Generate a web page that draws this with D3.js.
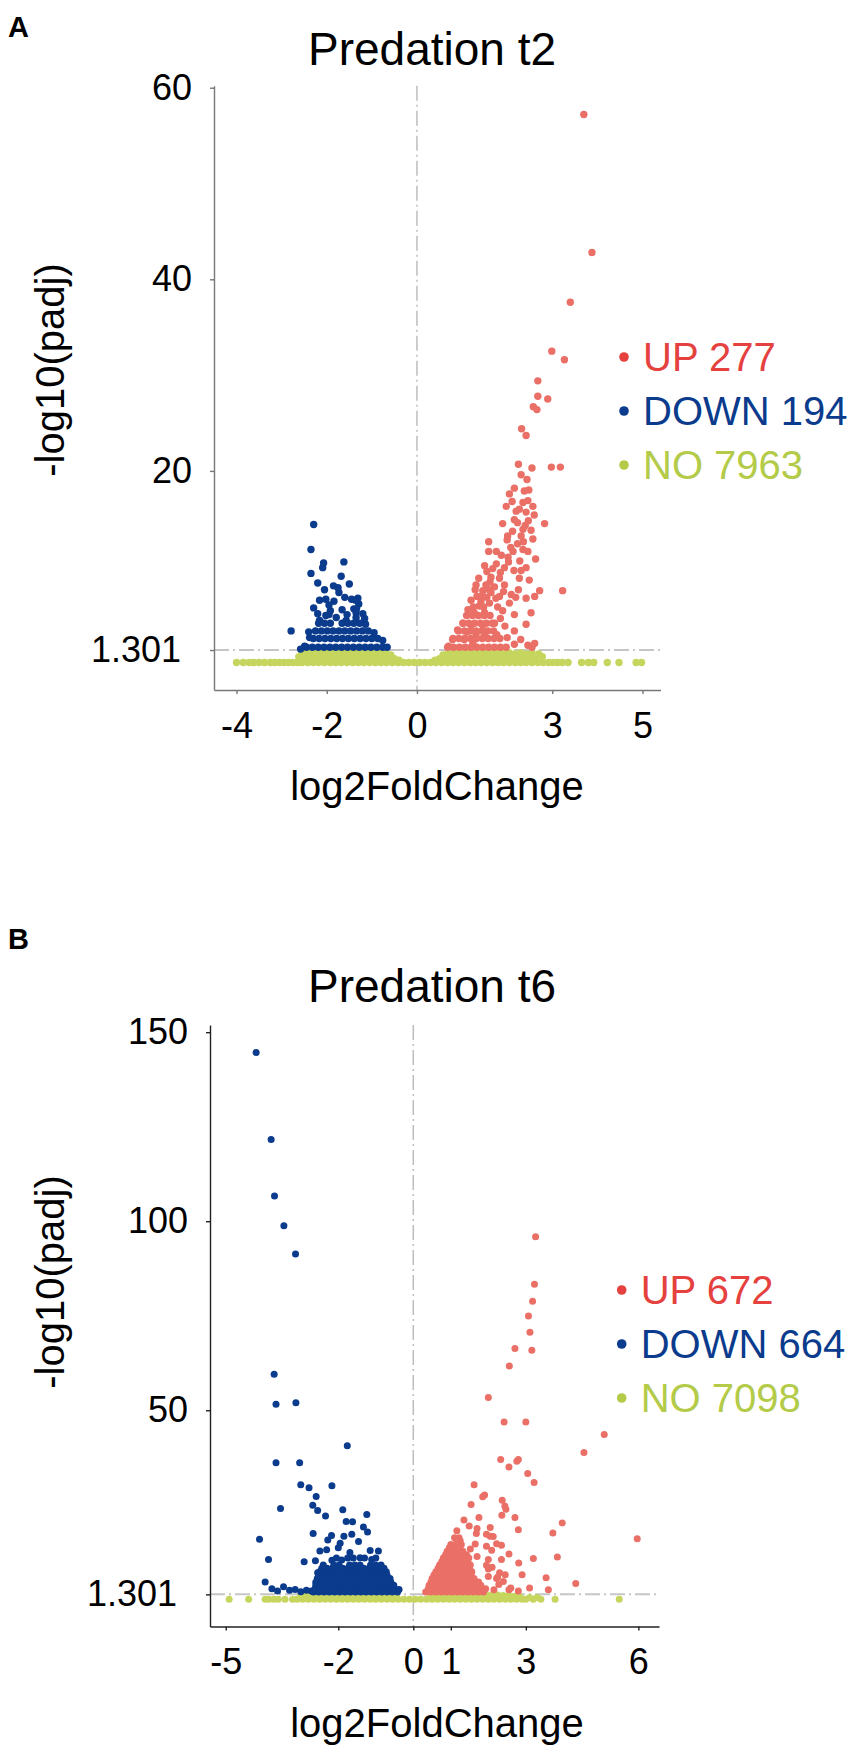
<!DOCTYPE html>
<html>
<head>
<meta charset="utf-8">
<script src="https://cdn.jsdelivr.net/npm/d3@7"></script>
<style>
  body { margin: 0; background: #fff; }
  text { font-family: "Liberation Sans", Arial, sans-serif; }
</style>
</head>
<body>
<svg id="chart" width="854" height="1750"></svg>
<script>
// categories, counts and ticks
const groups = ["UP", "DOWN", "NO"];
const countsA = [277, 194, 7963];
const countsB = [672, 664, 7098];
const threshold = 1.301;
const xTicksA = [-4, -2, 0, 3, 5];
const yTicksA = [1.301, 20, 40, 60];
const xTicksB = [-5, -2, 0, 1, 3, 6];
const yTicksB = [1.301, 50, 100, 150];

// panel A points, [log2FoldChange, -log10(padj)]
const upA = [
  [3.70,57.2],[3.88,42.8],[3.40,37.6],[2.99,32.5],[3.27,31.6],[2.68,29.4],[2.68,27.8],[2.90,27.5],
  [2.58,26.7],[2.66,26.4],[2.32,24.4],[2.42,23.7],[2.25,20.7],[2.98,20.4],[3.18,20.4],[2.44,19.1],
  [2.16,18.2],[2.05,17.6],[2.38,17.9],[2.11,16.8],[2.35,16.7],[2.46,16.9],[2.57,16.3],[1.98,16.3],
  [2.20,15.8],[2.42,15.7],[2.60,15.4],[2.16,14.9],[2.47,14.8],[2.23,14.6],[1.90,14.5],[2.83,14.5],
  [2.35,13.9],[2.53,13.8],[2.01,13.2],[2.31,13.2],[2.57,12.9],[1.59,12.6],[2.23,12.4],[2.08,12.0],
  [2.35,11.8],[1.59,11.6],[1.76,11.6],[1.87,11.2],[2.13,11.6],[2.46,11.6],[2.02,11.0],[2.28,10.6],
  [2.63,10.8],[1.50,10.1],[1.76,10.3],[1.94,9.9],[2.42,9.9],[1.68,9.8],[2.15,9.6],[2.31,9.6],
  [1.37,8.8],[1.64,8.9],[1.83,8.8],[2.27,8.8],[2.49,8.6],[1.31,8.1],[1.53,8.1],[1.72,7.9],
  [1.94,8.1],[1.29,7.6],[1.46,7.5],[1.64,7.3],[2.72,7.5],[3.23,7.5],[1.33,6.9],[1.83,6.9],
  [2.09,7.1],[2.19,6.8],[1.20,6.5],[1.42,6.4],[1.61,6.2],[1.79,5.8],[2.42,6.7],[2.61,6.9],
  [1.13,5.5],[1.27,5.2],[1.50,5.2],[1.90,5.4],[2.16,5.0],[2.53,5.2],[1.02,4.1],[1.20,3.9],
  [1.46,3.9],[1.72,4.1],[2.42,4.0],[0.90,3.4],[1.11,3.2],[1.31,2.9],[1.50,3.1],[1.77,2.9],
  [2.16,3.3],[0.79,2.4],[1.05,2.4],[1.24,2.0],[2.16,1.9],[2.46,1.8],[2.61,2.0],[0.70,1.7],
  [1.85,4.6],[1.95,3.8],[2.00,2.6],[1.55,9.5],[1.62,8.4],[1.92,7.4],[2.03,10.5],[2.25,7.6],
  [2.05,6.2],[1.48,5.8],[1.60,7.6],[1.75,6.7],[1.85,9.4],[2.00,12.8],[2.12,13.7],[2.36,12.6],
  [2.40,14.3],[2.27,16.0],[2.48,18.0],[2.31,19.6],[2.55,20.3],[2.30,2.4],[2.55,1.6],[1.38,5.9],
  [1.45,7.0],[1.55,6.8],[1.25,5.8],
  [0.68,1.6],[0.81,1.6],[0.94,1.6],[1.07,1.6],[1.20,1.6],[1.33,1.6],[1.46,1.6],[1.59,1.6],
  [1.72,1.6],[1.85,1.6],[1.98,1.6],
  [0.80,2.5],[0.93,2.5],[1.06,2.5],[1.19,2.5],[1.32,2.5],[1.45,2.5],[1.58,2.5],[1.71,2.5],[1.84,2.5],
  [0.92,3.3],[1.05,3.3],[1.18,3.3],[1.31,3.3],[1.44,3.3],[1.57,3.3],[1.70,3.3],
  [1.02,4.1],[1.15,4.1],[1.28,4.1],[1.41,4.1],[1.54,4.1],[1.67,4.1],
  [1.10,4.9],[1.23,4.9],[1.36,4.9],[1.49,4.9],[1.62,4.9]
];
const downA = [
  [-2.29,14.4],[-2.35,11.8],[-1.62,10.5],[-2.09,9.9],[-2.07,10.4],[-2.35,9.3],[-2.20,8.3],[-1.50,8.2],
  [-1.73,7.3],[-2.16,6.5],[-2.02,6.6],[-1.31,6.7],[-1.84,6.4],[-1.29,6.1],[-2.29,5.7],[-2.20,5.1],
  [-1.92,5.4],[-1.66,5.5],[-1.40,5.6],[-1.20,5.1],[-2.16,4.4],[-2.02,4.9],[-1.79,4.7],[-1.57,4.4],
  [-1.35,4.7],[-1.16,4.6],[-2.79,3.3],[-2.49,1.7],[-2.58,1.4],[-1.75,7.8],[-1.60,6.8],[-1.45,6.6],
  [-1.95,6.0],[-1.55,5.0],[-2.05,7.6],[-1.85,8.0],[-1.68,9.0],[-1.95,5.0],[-1.35,5.2],[-1.36,6.5],
  [-1.34,5.6],[-2.40,3.2],[-2.38,2.6],
  [-2.45,1.6],[-2.32,1.6],[-2.19,1.6],[-2.06,1.6],[-1.93,1.6],[-1.80,1.6],[-1.67,1.6],[-1.54,1.6],
  [-1.41,1.6],[-1.28,1.6],[-1.15,1.6],[-1.02,1.6],[-0.89,1.6],[-0.76,1.6],[-0.66,1.6],
  [-2.30,2.5],[-2.17,2.5],[-2.04,2.5],[-1.91,2.5],[-1.78,2.5],[-1.65,2.5],[-1.52,2.5],[-1.39,2.5],
  [-1.26,2.5],[-1.13,2.5],[-1.00,2.5],[-0.87,2.5],[-0.76,2.3],
  [-2.25,3.3],[-2.12,3.3],[-1.99,3.3],[-1.86,3.3],[-1.73,3.3],[-1.60,3.3],[-1.47,3.3],[-1.34,3.3],
  [-1.21,3.3],[-1.08,3.3],[-0.95,3.1],
  [-2.18,4.1],[-2.05,4.1],[-1.92,4.1],[-1.66,4.1],[-1.53,4.1],[-1.40,4.1],[-1.27,4.1],[-1.14,4.0]
];
const noA = [
  [-4.00,0],[-3.85,0],[-3.72,0],[-3.62,0],[-3.50,0],[-3.38,0],[-3.25,0],[-3.15,0],[-3.05,0],[-2.95,0],
  [-2.85,0],[-2.75,0],[-2.65,0],[-2.55,0],[-2.42,0],[-2.30,0],[-2.18,0],[-2.05,0],[-1.92,0],[-1.80,0],
  [-1.68,0],[-1.55,0],[-1.42,0],[-1.30,0],[-1.18,0],[-1.05,0],[-0.92,0],[-0.80,0],[-0.68,0],[-0.55,0],
  [-0.42,0],[-0.30,0],[-0.18,0],[-0.06,0],[0.06,0],[0.18,0],[0.30,0],[0.42,0],[0.55,0],[0.68,0],
  [0.80,0],[0.92,0],[1.05,0],[1.18,0],[1.30,0],[1.42,0],[1.55,0],[1.68,0],[1.80,0],[1.92,0],
  [2.05,0],[2.18,0],[2.30,0],[2.42,0],[2.55,0],[2.68,0],[2.80,0],[2.92,0],[3.02,0],[3.12,0],
  [3.22,0],[3.35,0],[3.65,0],[3.80,0],[3.92,0],[4.22,0],[4.48,0],[4.86,0],[4.98,0],
  [-2.62,0.6],[-2.50,0.5],[-2.38,0.5],[-2.25,0.5],[-2.12,0.5],[-2.00,0.5],[-1.88,0.5],[-1.75,0.5],
  [-1.62,0.5],[-1.50,0.5],[-1.38,0.5],[-1.25,0.5],[-1.12,0.5],[-1.00,0.5],[-0.88,0.5],[-0.75,0.5],
  [-0.62,0.5],[-0.50,0.4],[-0.40,0.25],[0.40,0.25],[0.50,0.4],[0.62,0.5],[0.75,0.5],[0.88,0.5],
  [1.00,0.5],[1.12,0.5],[1.25,0.5],[1.38,0.5],[1.50,0.5],[1.62,0.5],[1.75,0.5],[1.88,0.5],
  [2.00,0.5],[2.12,0.5],[2.25,0.5],[2.38,0.5],[2.50,0.5],[2.62,0.5],[2.78,0.6],
  [-2.55,1.0],[-2.42,1.1],[-2.30,1.0],[-2.18,1.1],[-2.05,1.0],[-1.92,1.1],[-1.80,1.0],[-1.68,1.1],
  [-1.55,1.0],[-1.42,1.1],[-1.30,1.0],[-1.18,1.1],[-1.05,1.0],[-0.92,1.1],[-0.80,1.0],[-0.68,0.9],
  [-0.58,0.8],[0.58,0.8],[0.68,0.9],[0.80,1.0],[0.92,1.1],[1.05,1.0],[1.18,1.1],[1.30,1.0],
  [1.42,1.1],[1.55,1.0],[1.68,1.1],[1.80,1.0],[1.92,1.1],[2.05,1.0],[2.18,0.9],[2.30,1.0],
  [2.42,0.9],[2.55,1.0],[2.70,0.9]
];

// panel B points
const upB = [
  [3.26,95.9],[3.23,83.3],[3.18,78.8],[3.07,74.9],[3.11,70.6],[2.71,66.3],[3.16,65.9],[2.56,61.7],
  [2.00,53.4],[2.42,46.9],[3.00,46.9],[5.09,43.6],[4.55,38.8],[2.33,37.0],[2.80,37.0],[2.76,36.5],
  [2.55,35.0],[3.05,33.3],[3.22,30.9],[1.62,30.3],[1.85,27.1],[1.90,27.6],[2.37,26.2],[1.54,25.1],
  [2.44,24.7],[2.47,23.8],[2.36,22.2],[2.71,21.6],[1.75,21.6],[1.49,19.4],[1.70,18.7],[1.16,18.1],
  [2.80,18.4],[3.97,20.2],[3.72,17.5],[1.68,17.4],[1.95,17.2],[2.05,16.7],[2.13,16.6],[1.65,14.6],
  [1.10,14.4],[2.09,13.0],[2.22,14.7],[1.95,14.0],[2.35,14.3],[1.52,13.3],[1.70,11.3],[3.84,11.2],
  [3.20,10.8],[2.81,9.6],[2.00,10.5],[2.00,8.0],[2.25,5.9],[2.40,4.7],[3.54,5.7],[4.33,4.2],
  [5.97,16.0],[2.22,5.5],[2.28,3.9],[2.55,2.5],[2.10,8.5],[2.30,7.0],[1.95,9.0],[2.15,2.5],
  [2.60,3.0],[2.80,2.2],[2.45,6.5],[2.00,6.0],[2.35,10.5],[2.55,12.0],[2.90,6.5],[3.60,2.5],
  [3.10,3.0],[2.05,19.0],[1.35,21.0],[1.25,15.5],
  [0.33,1.9],[0.47,1.9],[0.61,1.9],[0.75,1.9],[0.89,1.9],[1.03,1.9],[1.17,1.9],[1.31,1.9],
  [1.45,1.9],[1.59,1.9],[1.73,1.9],[1.87,1.9],
  [0.40,2.8],[0.54,2.8],[0.68,2.8],[0.82,2.8],[0.96,2.8],[1.10,2.8],[1.24,2.8],[1.38,2.8],
  [1.52,2.8],[1.66,2.8],[1.80,2.8],[1.93,2.8],
  [0.42,3.7],[0.56,3.7],[0.70,3.7],[0.84,3.7],[0.98,3.7],[1.12,3.7],[1.26,3.7],[1.40,3.7],
  [1.54,3.7],[1.68,3.7],[1.80,3.7],
  [0.47,4.6],[0.62,4.6],[0.76,4.6],[0.90,4.6],[1.04,4.6],[1.18,4.6],[1.32,4.6],[1.46,4.6],
  [1.60,4.6],[1.74,4.6],
  [0.50,5.5],[0.64,5.5],[0.78,5.5],[0.92,5.5],[1.06,5.5],[1.20,5.5],[1.34,5.5],[1.48,5.5],[1.62,5.5],
  [0.55,6.4],[0.70,6.4],[0.84,6.4],[0.98,6.4],[1.12,6.4],[1.26,6.4],[1.40,6.4],[1.54,6.4],
  [0.60,7.3],[0.74,7.3],[0.88,7.3],[1.02,7.3],[1.16,7.3],[1.30,7.3],[1.44,7.3],[1.56,7.3],
  [0.66,8.2],[0.80,8.2],[0.94,8.2],[1.08,8.2],[1.22,8.2],[1.36,8.2],[1.50,8.2],
  [0.70,9.1],[0.84,9.1],[0.98,9.1],[1.12,9.1],[1.26,9.1],[1.40,9.1],[1.52,9.1],
  [0.76,10.0],[0.90,10.0],[1.04,10.0],[1.18,10.0],[1.32,10.0],[1.45,10.0],
  [0.80,10.9],[0.94,10.9],[1.08,10.9],[1.22,10.9],[1.36,10.9],[1.48,10.9],
  [0.86,11.8],[1.00,11.8],[1.14,11.8],[1.28,11.8],[1.42,11.8],
  [0.90,12.7],[1.04,12.7],[1.18,12.7],[1.32,12.7],
  [0.96,13.6],[1.10,13.6],[1.24,13.6],
  [1.00,14.5],[1.14,14.5],[1.28,14.5],[1.10,16.3],[1.22,16.3]
];
const downB = [
  [-4.19,144.6],[-3.79,121.6],[-3.70,106.7],[-3.45,98.8],[-3.14,91.3],[-3.71,59.5],[-3.66,51.6],[-3.13,52.0],
  [-1.76,40.6],[-3.66,36.1],[-3.03,36.1],[-3.00,30.3],[-2.78,29.5],[-2.17,30.0],[-2.59,27.2],[-3.54,24.0],
  [-2.68,24.9],[-2.55,23.5],[-2.34,22.0],[-1.88,23.7],[-1.24,22.4],[-1.79,20.6],[-1.62,20.5],[-1.33,19.1],
  [-1.22,17.8],[-4.10,15.9],[-2.67,17.4],[-2.18,16.9],[-2.28,15.7],[-1.85,16.7],[-1.64,17.2],[-1.46,15.3],
  [-1.95,14.8],[-2.49,12.8],[-2.31,13.1],[-2.00,13.6],[-1.69,12.4],[-1.15,12.9],[-0.93,12.8],[-2.17,10.3],
  [-1.91,10.4],[-1.42,11.0],[-1.11,10.5],[-3.86,10.5],[-2.91,9.9],[-2.61,10.2],
  [-3.95,4.6],[-3.77,2.8],[-3.62,2.2],[-3.46,3.3],[-3.30,2.4],[-3.15,2.6],[-3.00,2.0],[-2.85,2.4],
  [-2.72,2.2],[-2.60,4.5],[-2.55,7.0],
  [-2.66,1.9],[-2.52,1.9],[-2.38,1.9],[-2.24,1.9],[-2.10,1.9],[-1.96,1.9],[-1.82,1.9],[-1.68,1.9],
  [-1.54,1.9],[-1.40,1.9],[-1.26,1.9],[-1.12,1.9],[-0.98,1.9],[-0.84,1.9],[-0.70,1.9],[-0.56,1.9],[-0.42,1.9],
  [-2.62,2.8],[-2.48,2.8],[-2.34,2.8],[-2.20,2.8],[-2.06,2.8],[-1.92,2.8],[-1.78,2.8],[-1.64,2.8],
  [-1.50,2.8],[-1.36,2.8],[-1.22,2.8],[-1.08,2.8],[-0.94,2.8],[-0.80,2.8],[-0.66,2.8],[-0.50,2.8],[-0.38,2.6],
  [-2.60,3.7],[-2.46,3.7],[-2.32,3.7],[-2.18,3.7],[-2.04,3.7],[-1.90,3.7],[-1.76,3.7],[-1.62,3.7],
  [-1.48,3.7],[-1.34,3.7],[-1.20,3.7],[-1.06,3.7],[-0.92,3.7],[-0.78,3.7],[-0.64,3.7],[-0.52,3.7],
  [-2.58,4.6],[-2.44,4.6],[-2.30,4.6],[-2.16,4.6],[-2.02,4.6],[-1.88,4.6],[-1.74,4.6],[-1.60,4.6],
  [-1.46,4.6],[-1.32,4.6],[-1.18,4.6],[-1.04,4.6],[-0.90,4.6],[-0.76,4.6],[-0.60,4.6],
  [-2.56,5.5],[-2.42,5.5],[-2.28,5.5],[-2.14,5.5],[-2.00,5.5],[-1.86,5.5],[-1.72,5.5],[-1.58,5.5],
  [-1.44,5.5],[-1.30,5.5],[-1.16,5.5],[-1.02,5.5],[-0.88,5.5],[-0.74,5.5],[-0.62,5.5],
  [-2.52,6.4],[-2.38,6.4],[-2.24,6.4],[-2.10,6.4],[-1.96,6.4],[-1.82,6.4],[-1.68,6.4],[-1.54,6.4],
  [-1.40,6.4],[-1.26,6.4],[-1.12,6.4],[-0.98,6.4],[-0.84,6.4],[-0.70,6.4],
  [-2.50,7.3],[-2.36,7.3],[-2.22,7.3],[-2.08,7.3],[-1.94,7.3],[-1.80,7.3],[-1.66,7.3],[-1.52,7.3],
  [-1.38,7.3],[-1.24,7.3],[-1.10,7.3],[-0.96,7.3],[-0.82,7.3],[-0.72,7.3],
  [-2.44,8.2],[-2.30,8.2],[-2.16,8.2],[-2.02,8.2],[-1.88,8.2],[-1.74,8.2],[-1.60,8.2],[-1.46,8.2],
  [-1.32,8.2],[-1.18,8.2],[-1.04,8.2],[-0.90,8.2],[-0.78,8.2],
  [-2.40,9.1],[-2.12,9.1],[-1.98,9.1],[-1.70,9.1],[-1.56,9.1],[-1.42,9.1],[-1.14,9.1],[-1.00,9.1],[-0.86,9.1],
  [-2.05,10.9],[-1.75,10.9],[-1.60,10.9],[-1.30,10.9],[-1.00,10.9]
];
const noB = [
  [-4.91,0],[-4.39,0],[-3.95,0],[-3.85,0],[-3.72,0],[-3.60,0],[-3.42,0],[-3.22,0],[-3.10,0],[-2.95,0],
  [-2.80,0],[-2.65,0],[-2.50,0],[-2.35,0],[-2.20,0],[-2.05,0],[-1.90,0],[-1.75,0],[-1.60,0],[-1.45,0],
  [-1.30,0],[-1.15,0],[-1.00,0],[-0.85,0],[-0.70,0],[-0.55,0],[-0.40,0],[-0.25,0],[-0.10,0],[0.05,0],
  [0.20,0],[0.35,0],[0.50,0],[0.65,0],[0.80,0],[0.95,0],[1.10,0],[1.25,0],[1.40,0],[1.55,0],
  [1.70,0],[1.85,0],[2.00,0],[2.15,0],[2.30,0],[2.45,0],[2.60,0],[2.75,0],[2.90,0],[3.00,0],
  [3.20,0],[3.40,0],[3.78,0],[5.49,0],
  [-3.00,1.0],[-2.85,1.0],[-2.70,1.2],[-2.55,1.1],[-2.40,1.2],[-2.25,1.1],[-2.10,1.2],[-1.95,1.1],
  [-1.80,1.2],[-1.65,1.1],[-1.50,1.2],[-1.35,1.1],[-1.20,1.2],[-1.05,1.1],[-0.90,1.2],[-0.75,1.1],
  [-0.60,1.0],[-0.45,0.8],[0.45,0.8],[0.60,1.0],[0.75,1.1],[0.90,1.2],[1.05,1.1],[1.20,1.2],
  [1.35,1.1],[1.50,1.2],[1.65,1.1],[1.80,1.2],[1.95,1.1],[2.10,1.2],[2.25,1.1],[2.40,1.0],
  [2.55,1.0],[2.70,0.8],[2.85,0.6],[3.10,0.5],[3.30,0.5]
];

const pointColors = { UP: "#ea7067", DOWN: "#0b3b8c", NO: "#c6d55e" };
const legendColors = { UP: "#e5413e", DOWN: "#0b3b8c", NO: "#b3cb48" };

const svg = d3.select("#chart");

function drawPanel(p) {
  const x = d3.scaleLinear().domain(p.xDomain).range([p.left, p.right]);
  const y = d3.scaleLinear().domain(p.yDomain).range([p.bottom, p.top]);
  const g = svg.append("g");

  // panel letter and title
  g.append("text").attr("x", 8).attr("y", p.letterY)
    .attr("font-size", 29).attr("font-weight", "bold").text(p.letter);
  g.append("text").attr("x", p.titleX).attr("y", p.titleY)
    .attr("text-anchor", "middle").attr("font-size", 46).text(p.title);

  // dashed reference lines
  g.append("line")
    .attr("x1", x(0)).attr("x2", x(0)).attr("y1", p.top).attr("y2", p.bottom)
    .attr("stroke", "#bdbdbd").attr("stroke-width", 1.5).attr("stroke-dasharray", "15,4,2,4");
  g.append("line")
    .attr("x1", p.left).attr("x2", p.right).attr("y1", y(threshold)).attr("y2", y(threshold))
    .attr("stroke", "#c6c6c6").attr("stroke-width", 2).attr("stroke-dasharray", "15,4,2,4");

  // points
  [["NO", p.no], ["UP", p.up], ["DOWN", p.down]].forEach(([k, pts]) => {
    g.append("g").selectAll("circle").data(pts).join("circle")
      .attr("cx", d => x(d[0]))
      .attr("cy", d => y(d[1]))
      .attr("r", p.r)
      .attr("fill", pointColors[k]);
  });

  // axes
  const xAxis = g.append("g").attr("transform", "translate(0," + p.bottom + ")")
    .call(d3.axisBottom(x).tickValues(p.xTicks).tickSize(4).tickSizeOuter(0)
      .tickPadding(18).tickFormat(d => String(d)));
  const yAxis = g.append("g").attr("transform", "translate(" + p.left + ",0)")
    .call(d3.axisLeft(y).tickValues(p.yTicks).tickSize(4).tickSizeOuter(0)
      .tickPadding(18).tickFormat(d => String(d)));
  [xAxis, yAxis].forEach(a => {
    a.attr("font-size", 36).attr("font-family", '"Liberation Sans", Arial, sans-serif');
    a.select(".domain").attr("stroke", p.axisColor).attr("stroke-width", 1.4);
    a.selectAll(".tick line").attr("stroke", p.axisColor).attr("stroke-width", 1.4);
    a.selectAll(".tick text").attr("fill", "#000");
  });
  yAxis.selectAll(".tick").filter(d => d === threshold).select("text").attr("dx", -11);

  // axis titles
  g.append("text").attr("x", p.xTitleX).attr("y", p.bottom + 110)
    .attr("text-anchor", "middle").attr("font-size", 40).text("log2FoldChange");
  g.append("text").attr("transform", "translate(64," + p.yTitleY + ") rotate(-90)")
    .attr("text-anchor", "middle").attr("font-size", 40).text("-log10(padj)");

  // legend
  const leg = g.append("g").selectAll("g").data(groups).join("g")
    .attr("transform", (d, i) => "translate(" + p.legendX + "," + (p.legendY + i * 54) + ")");
  leg.append("circle").attr("r", 4.8).attr("fill", d => legendColors[d]);
  leg.append("text").attr("x", 19).attr("y", 14).attr("font-size", 40)
    .attr("fill", d => legendColors[d])
    .text((d, i) => d + " " + p.counts[i]);
}

drawPanel({
  letter: "A", letterY: 37, title: "Predation t2", titleX: 432, titleY: 65,
  left: 214, right: 660.5, top: 85.8, bottom: 690,
  xDomain: [-4.5, 5.4], yDomain: [-2.87, 60.2],
  xTicks: xTicksA, yTicks: yTicksA, axisColor: "#777",
  up: upA, down: downA, no: noA, counts: countsA, r: 3.7,
  legendX: 624, legendY: 357, xTitleX: 437, yTitleY: 370
});

drawPanel({
  letter: "B", letterY: 949, title: "Predation t6", titleX: 432, titleY: 1002,
  left: 210, right: 659, top: 1025, bottom: 1626.5,
  xDomain: [-5.42, 6.55], yDomain: [-7.2, 151.9],
  xTicks: xTicksB, yTicks: yTicksB, axisColor: "#222",
  up: upB, down: downB, no: noB, counts: countsB, r: 3.5,
  legendX: 621.7, legendY: 1290, xTitleX: 437, yTitleY: 1282
});
</script>
</body>
</html>
